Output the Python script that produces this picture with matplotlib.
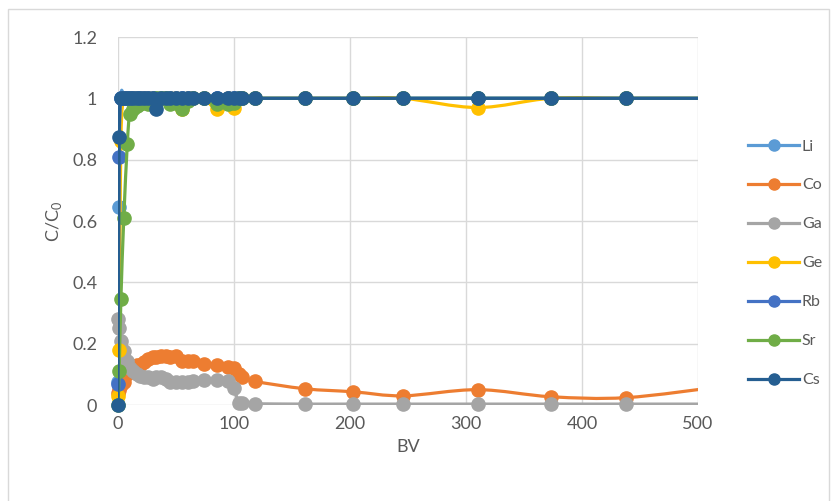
import matplotlib
matplotlib.use("Agg")
import matplotlib.pyplot as plt
from matplotlib.path import Path
from matplotlib.patches import PathPatch, Rectangle
from matplotlib.lines import Line2D

plt.rcParams["font.family"] = ["Lato", "DejaVu Sans"]
plt.rcParams["mathtext.fontset"] = "custom"
plt.rcParams["mathtext.rm"] = "Lato"

# bed volumes sampled (last point lies past the axis end)
bv = [0, 1, 2.5, 5, 8, 10, 13, 16, 19, 22, 26, 30, 33, 37, 41, 45, 50, 55, 60,
      65, 74, 85, 95, 100, 104, 107, 118, 161, 203, 246, 310, 373, 438, 520]

li = [0.075, 0.645] + [1.0] * 32
rb = [0.07, 0.81] + [1.0] * 32
cs = [0.0, 0.875, 1, 1, 1, 1, 1, 1, 1, 1, 1, 1, 0.965, 1, 1, 1, 1, 1, 1,
      1, 1, 1, 1, 1, 1, 1, 1, 1, 1, 1, 1, 1, 1, 1]
ge = [0.03, 0.18, 0.86, 1, 1, 1, 1, 1, 1, 1, 1, 1, 1, 1, 1, 1, 1, 0.965, 1,
      1, 1, 0.965, 1, 0.97, 1, 1, 1, 1, 1, 1, 0.97, 1, 1, 1]
sr = [0.0, 0.11, 0.345, 0.61, 0.85, 0.95, 0.965, 0.975, 0.98, 0.99, 0.98, 0.99,
      1, 1, 1, 0.98, 0.985, 0.965, 0.99, 1, 1, 0.98, 0.98, 0.985, 1, 1, 1,
      1, 1, 1, 1, 1, 1, 1]
co = [0.04, 0.05, 0.065, 0.075, 0.1, 0.11, 0.12, 0.13, 0.13, 0.14, 0.15, 0.155,
      0.155, 0.16, 0.16, 0.155, 0.16, 0.145, 0.145, 0.145, 0.135, 0.13, 0.125,
      0.12, 0.1, 0.09, 0.077, 0.053, 0.043, 0.03, 0.05, 0.027, 0.024, 0.06]
ga = [0.28, 0.25, 0.21, 0.175, 0.145, 0.12, 0.11, 0.1, 0.095, 0.09, 0.09, 0.085,
      0.09, 0.09, 0.085, 0.075, 0.075, 0.075, 0.075, 0.078, 0.08, 0.08, 0.078,
      0.055, 0.005, 0.005, 0.004, 0.003, 0.003, 0.003, 0.003, 0.003, 0.003, 0.003]

series = [
    ("Li", li, "#5B9BD5"),
    ("Co", co, "#ED7D31"),
    ("Ga", ga, "#A5A5A5"),
    ("Ge", ge, "#FFC000"),
    ("Rb", rb, "#4472C4"),
    ("Sr", sr, "#70AD47"),
    ("Cs", cs, "#255E91"),
]


def smooth_path(x, y):
    """Catmull-Rom style bezier path through the points (spreadsheet smoothing)."""
    pts = list(zip(x, y))
    verts = [pts[0]]
    codes = [Path.MOVETO]
    n = len(pts)
    for i in range(n - 1):
        p0 = pts[max(i - 1, 0)]
        p1 = pts[i]
        p2 = pts[i + 1]
        p3 = pts[min(i + 2, n - 1)]
        c1 = (p1[0] + (p2[0] - p0[0]) / 6, p1[1] + (p2[1] - p0[1]) / 6)
        c2 = (p2[0] - (p3[0] - p1[0]) / 6, p2[1] - (p3[1] - p1[1]) / 6)
        verts += [c1, c2, p2]
        codes += [Path.CURVE4] * 3
    return Path(verts, codes)


fig = plt.figure(figsize=(8.37, 5.01), dpi=100)
ax = fig.add_axes([118 / 837, 96 / 501, 580 / 837, 368 / 501])

grid_c = "#D9D9D9"
ax.set_xlim(0, 500)
ax.set_ylim(0, 1.2)
ax.set_xticks(range(0, 501, 100))
ax.set_yticks([0, 0.2, 0.4, 0.6, 0.8, 1.0, 1.2])
ax.set_yticklabels(["0", "0.2", "0.4", "0.6", "0.8", "1", "1.2"])
ax.grid(True, color=grid_c, lw=1)
ax.set_axisbelow(True)
for s in ax.spines.values():
    s.set_visible(False)
ax.tick_params(length=0, labelsize=13, labelcolor="#595959")
ax.tick_params(axis="y", pad=15)
ax.tick_params(axis="x", pad=8)

handles = []
for name, vals, col in series:
    patch = PathPatch(smooth_path(bv, vals), fill=False, edgecolor=col, lw=2.3,
                      capstyle="round", joinstyle="round", zorder=3)
    ax.add_patch(patch)
    ax.plot(bv[:-1], vals[:-1], "o", color=col, ms=9.5, mec=col, clip_on=False,
            zorder=3)
    handles.append(Line2D([], [], color=col, lw=2.3, marker="o", ms=8))

ax.set_xlabel("BV", fontsize=13, color="#595959", labelpad=5)
ax.set_ylabel(r"C/C$_\mathregular{0}$", fontsize=13, color="#595959", labelpad=6)

fig.legend(handles, [s[0] for s in series], loc="upper left",
           bbox_to_anchor=(734 / 837, 1 - 125 / 501), frameon=False,
           fontsize=11.5, labelcolor="#595959", handlelength=3.2,
           handletextpad=0.15, labelspacing=1.55)

# chart border
fig.patches.append(Rectangle((8 / 837, -0.01), 821 / 837, 1 - 9 / 501 + 0.01,
                             transform=fig.transFigure, fill=False,
                             edgecolor="#D9D9D9", lw=1))

fig.savefig("out.png", dpi=100)
